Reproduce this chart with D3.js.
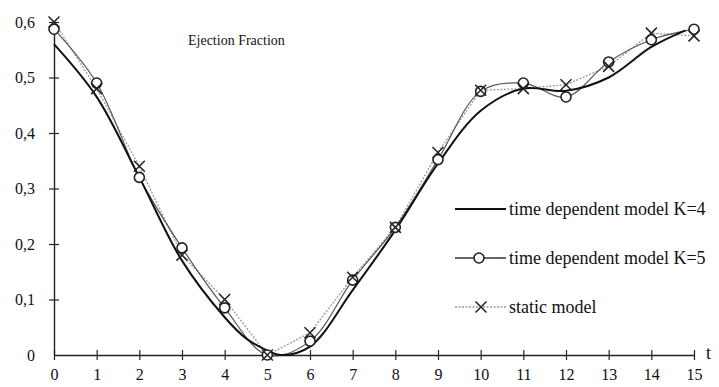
<!DOCTYPE html>
<html>
<head>
<meta charset="utf-8">
<script src="https://cdn.jsdelivr.net/npm/d3@7"></script>
</head>
<body style="margin:0">
<svg id="chart" width="719" height="387"></svg>
<script>
// values
const tK5 = [0, 1, 2, 3, 4, 5, 6, 7, 8, 9, 10, 11, 12, 13, 14, 15];
const ejK5 = [0.587, 0.49, 0.32, 0.193, 0.085, 0.0, 0.025, 0.135, 0.23, 0.352, 0.475, 0.49, 0.465, 0.528, 0.568, 0.587];

const tStatic = [0, 1, 2, 3, 4, 5, 6, 7, 8, 9, 10, 11, 12, 13, 14, 15];
const ejStatic = [0.6, 0.48, 0.34, 0.18, 0.1, 0.0, 0.04, 0.14, 0.23, 0.365, 0.477, 0.48, 0.487, 0.52, 0.58, 0.575];

const tK4 = [0, 1, 2, 3, 4, 4.5, 5, 5.3, 6, 7, 8, 9, 10, 11, 12, 13, 14, 14.8];
const ejK4 = [0.56, 0.465, 0.32, 0.17, 0.068, 0.03, 0.008, 0.0, 0.015, 0.117, 0.225, 0.345, 0.44, 0.48, 0.476, 0.5, 0.555, 0.585];

const xTicks = d3.range(0, 16);
const yTicks = [0, 0.1, 0.2, 0.3, 0.4, 0.5, 0.6];

const legendItems = [
  { label: 'time dependent model K=4', kind: 'k4' },
  { label: 'time dependent model K=5', kind: 'k5' },
  { label: 'static model', kind: 'static' }
];

const serif = 'Liberation Serif';
const svg = d3.select('#chart').style('display', 'block');
const x = d3.scaleLinear().domain([0, 15]).range([54, 694]);
const y = d3.scaleLinear().domain([0, 0.6]).range([355, 22]);
const fmt = d => d === 0 ? '0' : d3.format('.1f')(d).replace('.', ',');

// axes
const xAxis = svg.append('g').attr('transform', `translate(0,${y(0)})`)
  .call(d3.axisBottom(x).tickValues(xTicks).tickSizeInner(5).tickSizeOuter(0).tickPadding(9).tickFormat(d3.format('d')));
xAxis.selectAll('.tick line').attr('y1', -5);
const yAxis = svg.append('g').attr('transform', `translate(${x(0)},0)`)
  .call(d3.axisLeft(y).tickValues(yTicks).tickSizeInner(5).tickSizeOuter(0).tickPadding(14).tickFormat(fmt));
yAxis.selectAll('.tick line').attr('x1', 5);
yAxis.select('.tick line').remove(); // origin
[xAxis, yAxis].forEach(a => {
  a.attr('font-family', serif).attr('font-size', 16);
  a.select('.domain').attr('stroke', '#222').attr('stroke-width', 1.4);
  a.selectAll('.tick line').attr('stroke', '#222').attr('stroke-width', 1.2);
  a.selectAll('.tick text').attr('fill', '#111').attr('font-family', serif).style('font-family', serif);
});
svg.append('text').attr('x', x(15) + 12).attr('y', y(0) + 4)
  .attr('font-family', serif).style('font-family', serif).attr('font-size', 18).attr('fill', '#111').text('t');

svg.append('text').attr('x', 188).attr('y', 45)
  .attr('font-family', serif).style('font-family', serif).attr('font-size', 14).attr('fill', '#111').text('Ejection Fraction');

// lines
const staticLine = d3.line().x((d, i) => x(tStatic[i])).y(d => y(d));
svg.append('path').datum(ejStatic).attr('d', staticLine)
  .attr('fill', 'none').attr('stroke', '#999').attr('stroke-width', 1.3).attr('stroke-dasharray', '2,1.5');

const k5Line = d3.line().x((d, i) => x(tK5[i])).y(d => y(d)).curve(d3.curveCatmullRom);
svg.append('path').datum(ejK5).attr('d', k5Line)
  .attr('fill', 'none').attr('stroke', '#555').attr('stroke-width', 1.2);

const k4Line = d3.line().x((d, i) => x(tK4[i])).y(d => y(d)).curve(d3.curveCatmullRom);
svg.append('path').datum(ejK4).attr('d', k4Line)
  .attr('fill', 'none').attr('stroke', '#111').attr('stroke-width', 2);

// markers
function cross(g, cx, cy) {
  const s = 5.5;
  g.append('path').attr('d', `M${cx - s},${cy - s}L${cx + s},${cy + s}M${cx - s},${cy + s}L${cx + s},${cy - s}`)
    .attr('stroke', '#222').attr('stroke-width', 1.5).attr('fill', 'none');
}
function circ(g, cx, cy) {
  g.append('circle').attr('cx', cx).attr('cy', cy).attr('r', 5)
    .attr('fill', '#fff').attr('stroke', '#222').attr('stroke-width', 1.6);
}
const mk = svg.append('g');
ejK5.forEach((d, i) => circ(mk, x(tK5[i]), y(d)));
ejStatic.forEach((d, i) => cross(mk, x(tStatic[i]), y(d)));

// legend
const lg = svg.append('g');
legendItems.forEach((it, i) => {
  const ly = 209 + i * 49;
  const x0 = 455, x1 = 506;
  if (it.kind === 'k4') {
    lg.append('line').attr('x1', x0).attr('x2', x1).attr('y1', ly).attr('y2', ly).attr('stroke', '#111').attr('stroke-width', 2);
  } else if (it.kind === 'k5') {
    lg.append('line').attr('x1', x0).attr('x2', x1).attr('y1', ly).attr('y2', ly).attr('stroke', '#333').attr('stroke-width', 1.6);
    circ(lg, 479, ly);
  } else {
    lg.append('line').attr('x1', x0).attr('x2', x1).attr('y1', ly).attr('y2', ly).attr('stroke', '#999').attr('stroke-width', 1.3).attr('stroke-dasharray', '2,1.5');
    cross(lg, 481, ly);
  }
  lg.append('text').attr('x', 509).attr('y', ly + 6)
    .attr('font-family', serif).style('font-family', serif)
    .attr('font-size', 18).attr('fill', '#111').text(it.label);
});
</script>
</body>
</html>
